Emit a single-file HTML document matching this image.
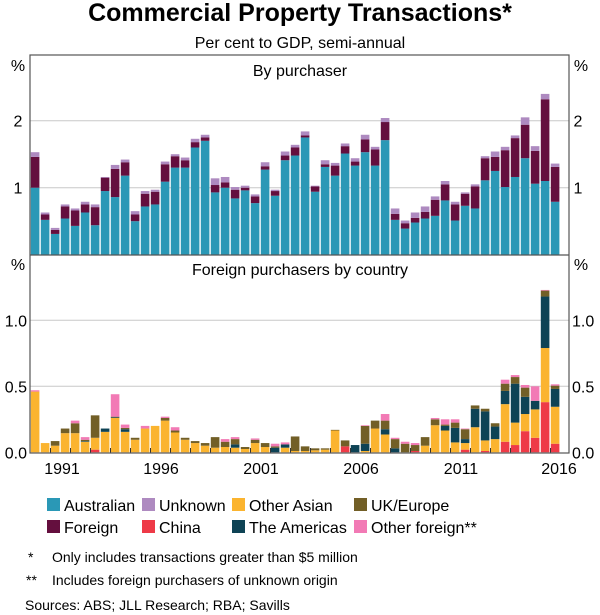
<!DOCTYPE html>
<html><head><meta charset="utf-8"><style>
body{margin:0;background:#fff;}
svg{display:block;font-family:"Liberation Sans",Arial,sans-serif;}
</style></head><body>
<svg id="chart" width="600" height="615" viewBox="0 0 600 615">
<text x="300" y="21" text-anchor="middle" font-size="25" font-weight="bold" fill="#000">Commercial Property Transactions*</text>
<text x="300" y="48" text-anchor="middle" font-size="16" fill="#000">Per cent to GDP, semi-annual</text>
<g id="top"></g>
<g id="bot"></g>
<rect x="30" y="55" width="539" height="398" fill="none" stroke="#555" stroke-width="1.2"/>
<line x1="30" y1="255" x2="569" y2="255" stroke="#555" stroke-width="1.2"/>
<text x="300" y="76" text-anchor="middle" font-size="16">By purchaser</text>
<text x="300" y="275" text-anchor="middle" font-size="16">Foreign purchasers by country</text>
<text x="18" y="71" text-anchor="middle" font-size="16">%</text>
<text x="581" y="71" text-anchor="middle" font-size="16">%</text>
<text x="18" y="270" text-anchor="middle" font-size="16">%</text>
<text x="581" y="270" text-anchor="middle" font-size="16">%</text>
<g id="legend" font-size="16"></g>
<g font-size="14" fill="#000">
<text x="28" y="562">*</text>
<text x="52" y="562">Only includes transactions greater than $5 million</text>
<text x="26" y="585">**</text>
<text x="52" y="585">Includes foreign purchasers of unknown origin</text>
<text x="25" y="610">Sources:   ABS; JLL Research; RBA; Savills</text>
</g>
</svg>
<script>
const australian=[1.00,0.52,0.31,0.54,0.43,0.63,0.44,0.95,0.86,1.18,0.50,0.72,0.75,1.09,1.30,1.30,1.60,1.70,0.93,1.00,0.84,0.96,0.77,1.27,0.88,1.41,1.48,1.75,0.94,1.31,1.18,1.51,1.33,1.53,1.33,1.71,0.52,0.39,0.48,0.54,0.58,0.81,0.51,0.73,0.69,1.11,1.25,1.01,1.16,1.44,1.06,1.10,0.79];
const foreign=[0.46,0.08,0.06,0.18,0.23,0.12,0.27,0.20,0.42,0.20,0.10,0.19,0.19,0.26,0.17,0.11,0.08,0.05,0.11,0.08,0.13,0.04,0.10,0.05,0.07,0.07,0.12,0.03,0.08,0.04,0.15,0.11,0.06,0.19,0.24,0.27,0.09,0.08,0.07,0.10,0.24,0.24,0.24,0.18,0.33,0.33,0.21,0.55,0.58,0.50,0.49,1.22,0.52];
const unknown=[0.07,0.03,0.03,0.03,0.03,0.04,0.04,0.01,0.06,0.04,0.05,0.04,0.03,0.04,0.03,0.04,0.05,0.04,0.10,0.08,0.04,0.03,0.03,0.06,0.02,0.06,0.04,0.06,0.01,0.06,0.04,0.04,0.05,0.07,0.04,0.06,0.08,0.04,0.08,0.08,0.05,0.05,0.04,0.02,0.03,0.03,0.08,0.05,0.04,0.11,0.07,0.08,0.05];
const china=[0,0,0,0,0,0,0.02,0,0,0,0,0,0,0,0,0,0,0,0,0,0,0,0,0,0,0,0,0,0,0,0,0.045,0,0,0,0,0,0,0.01,0,0,0,0,0.02,0,0.01,0,0.08,0.055,0.16,0.11,0.38,0.065];
const otherAsian=[0.46,0.07,0.05,0.145,0.145,0.08,0.09,0.155,0.26,0.155,0.095,0.18,0.20,0.24,0.15,0.095,0.07,0.05,0.035,0.04,0.035,0.025,0.07,0.04,0,0.035,0.01,0.01,0.015,0.02,0.165,0,0,0.01,0.18,0.135,0,0,0,0.05,0.205,0.165,0.075,0.05,0.19,0.08,0.10,0.285,0.17,0.13,0.215,0.41,0.28];
const americas=[0,0,0,0,0,0.005,0,0.025,0.005,0.02,0,0,0,0,0,0,0,0,0,0,0.025,0,0,0,0.035,0.025,0,0,0,0,0,0,0.055,0.055,0,0.04,0.03,0,0,0,0,0.035,0.11,0.03,0.14,0.22,0.095,0.10,0.295,0.13,0.065,0.39,0.135];
const ukEurope=[0,0,0.035,0.035,0.075,0.01,0.17,0,0.005,0.01,0.015,0,0,0.02,0.015,0.015,0.015,0.02,0.08,0.04,0.04,0.015,0.025,0.03,0.01,0,0.11,0.035,0.015,0.01,0.005,0.045,0,0.135,0.06,0.065,0.07,0.065,0.045,0.065,0.045,0.01,0.04,0.075,0.025,0.02,0.025,0.055,0.05,0.07,0,0.045,0.025];
const otherForeign=[0.01,0,0,0,0.02,0.02,0,0,0.17,0.025,0,0.02,0,0.01,0.025,0,0,0,0,0.02,0.015,0,0.01,0,0.02,0.015,0,0,0,0,0,0,0,0.005,0,0.05,0.01,0.015,0.015,0,0.01,0.04,0.025,0.005,0,0,0,0.03,0.015,0.02,0.11,0.005,0.01];
const yearLabels=["1991","1996","2001","2006","2011","2016"];
const yearLabelX=[62,161,261,361,461,559];
const topTicks=[1,2];
const botTicks=[0.0,0.5,1.0];
const botTickLabels=["0.0","0.5","1.0"];

const NS="http://www.w3.org/2000/svg";
function mk(tag,attrs,parent){const e=document.createElementNS(NS,tag);for(const k in attrs)e.setAttribute(k,attrs[k]);parent.appendChild(e);return e;}
const X0=30.5,STEP=10,BW=8.6;
function xPos(i){return X0+i*STEP+0.3;}
function yTop(v){return 254.7-v*67;}
function yBot(v){return 452.3-v*132;}
const topG=document.getElementById('top'),botG=document.getElementById('bot'),svg=document.getElementById('chart');

topTicks.forEach(t=>{
  const l=mk('line',{x1:30,x2:569,y1:yTop(t),y2:yTop(t),stroke:'#c8c8c8','stroke-width':1},topG);
  
  
  const a=mk('text',{x:18,y:yTop(t)+6,'text-anchor':'middle','font-size':16},topG);a.textContent=t;
  
  
  const b=mk('text',{x:578,y:yTop(t)+6,'text-anchor':'middle','font-size':16},topG);b.textContent=t;
  
  
});
botTicks.forEach((t,k)=>{
  if(t>0){const l=mk('line',{x1:30,x2:569,y1:yBot(t),y2:yBot(t),stroke:'#c8c8c8','stroke-width':1},botG);
  
  }
  const a=mk('text',{x:27,y:yBot(t)+6,'text-anchor':'end','font-size':16},botG);a.textContent=botTickLabels[k];
  
  
  const b=mk('text',{x:572,y:yBot(t)+6,'text-anchor':'start','font-size':16},botG);b.textContent=botTickLabels[k];
  
  
});

const topSeries=[[australian,'#2a98b6','australian'],[foreign,'#640f3e','foreign'],[unknown,'#ae8ac0','unknown']];
australian.forEach((_,i)=>{
  let c=0;
  topSeries.forEach(([arr,col,nm])=>{
    const v=arr[i];if(v<=0)return;
    const r=mk('rect',{x:xPos(i),width:BW,y:yTop(c+v),height:v*67,fill:col},topG);
    
    
    c+=v;
  });
});
const botSeries=[[china,'#ee3a47','china'],[otherAsian,'#fbb42f','other-asian'],[americas,'#0e4355','americas'],[ukEurope,'#725f27','uk-europe'],[otherForeign,'#f27ab5','other-foreign']];
china.forEach((_,i)=>{
  let c=0;
  botSeries.forEach(([arr,col,nm])=>{
    const v=arr[i];if(v<=0)return;
    const r=mk('rect',{x:xPos(i),width:BW,y:yBot(c+v),height:v*132,fill:col},botG);
    
    
    c+=v;
  });
});
for(let k=0;k<26;k++){
  const x=50.5+20*k;
  const t=mk('line',{x1:x,x2:x,y1:448,y2:453,stroke:'#333','stroke-width':1},botG);
  
  
}
yearLabels.forEach((s,k)=>{
  const t=mk('text',{x:yearLabelX[k],y:474,'text-anchor':'middle','font-size':16},svg);t.textContent=s;
  
  
});
const lg=document.getElementById('legend');
const legendItems=[['Australian','#2a98b6',47,505],['Unknown','#ae8ac0',142,505],['Other Asian','#fbb42f',232,505],['UK/Europe','#725f27',354,505],['Foreign','#640f3e',47,527],['China','#ee3a47',142,527],['The Americas','#0e4355',232,527],['Other foreign**','#f27ab5',354,527]];
legendItems.forEach(([lab,col,x,y])=>{
  const s=mk('rect',{x:x,y:y-7,width:13,height:13,fill:col},lg);
  
  
  const t=mk('text',{x:x+17,y:y+6},lg);t.textContent=lab;
  
  
});
</script>
</body></html>
